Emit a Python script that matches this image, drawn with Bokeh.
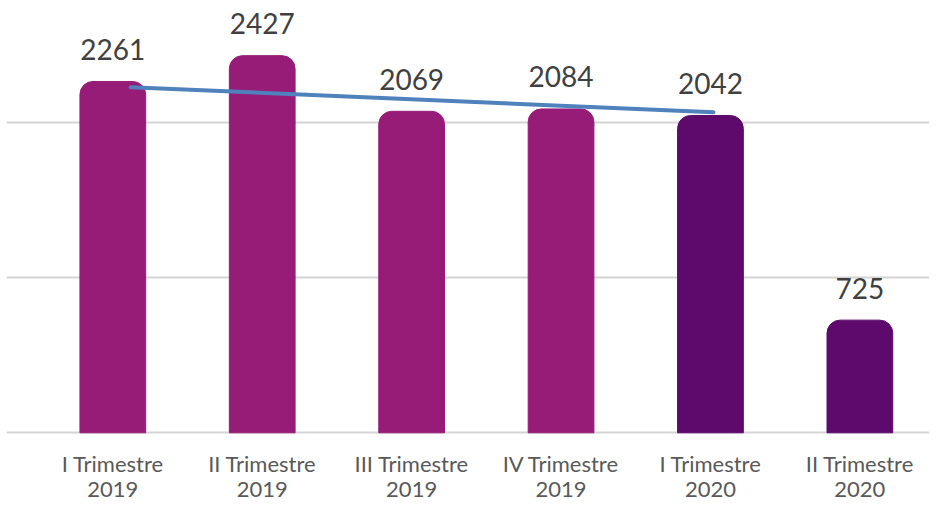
from bokeh.plotting import figure
from bokeh.models import ColumnDataSource, FixedTicker, Range1d
from bokeh.core.properties import value
from bokeh.embed import file_html
from bokeh.resources import INLINE

categories = ["I Trimestre\n2019", "II Trimestre\n2019", "III Trimestre\n2019",
              "IV Trimestre\n2019", "I Trimestre\n2020", "II Trimestre\n2020"]
values = [2261, 2427, 2069, 2084, 2042, 725]
colors = ["#961C77", "#961C77", "#961C77", "#961C77", "#5D0A6C", "#5D0A6C"]
trend_x = [0.12, 4.02]
trend_y = [2224, 2063]
grid_ticks = [0, 1000, 2000]

xs = list(range(len(values)))
src = ColumnDataSource(dict(x=xs, top=values, color=colors,
                            label=[str(v) for v in values]))

p = figure(frame_width=923, frame_height=434, output_backend="svg",
           toolbar_location=None, min_border=0, min_border_left=6,
           x_range=Range1d(-0.7115, 5.466), y_range=Range1d(-11, 2782))
p.outline_line_color = None
p.background_fill_color = "white"
p.border_fill_color = "white"

p.vbar(x="x", top="top", bottom=0, width=0.44, color="color", source=src,
       border_radius=(13, 13, 0, 0))
p.line(trend_x, trend_y, line_color="#4F81BD", line_width=4, line_cap="round")
p.text(x="x", y="top", text="label", source=src, y_offset=-32,
       text_align="center", text_baseline="alphabetic",
       text_font=value("Lato"), text_font_size="28px", text_color="#404040")

p.yaxis.visible = False
p.ygrid.ticker = FixedTicker(ticks=grid_ticks)
p.ygrid.grid_line_color = "#d4d4d4"
p.ygrid.grid_line_width = 2
p.xgrid.visible = False

ax = p.xaxis[0]
ax.ticker = FixedTicker(ticks=xs)
ax.major_label_overrides = {i: c for i, c in enumerate(categories)}
ax.axis_line_color = None
ax.major_tick_line_color = None
ax.minor_tick_line_color = None
ax.major_label_text_font = "Lato"
ax.major_label_text_font_size = "22px"
ax.major_label_text_line_height = 0.95
ax.major_label_text_color = "#595959"
ax.major_label_standoff = 9

open("out.html", "w").write(file_html(p, INLINE))
